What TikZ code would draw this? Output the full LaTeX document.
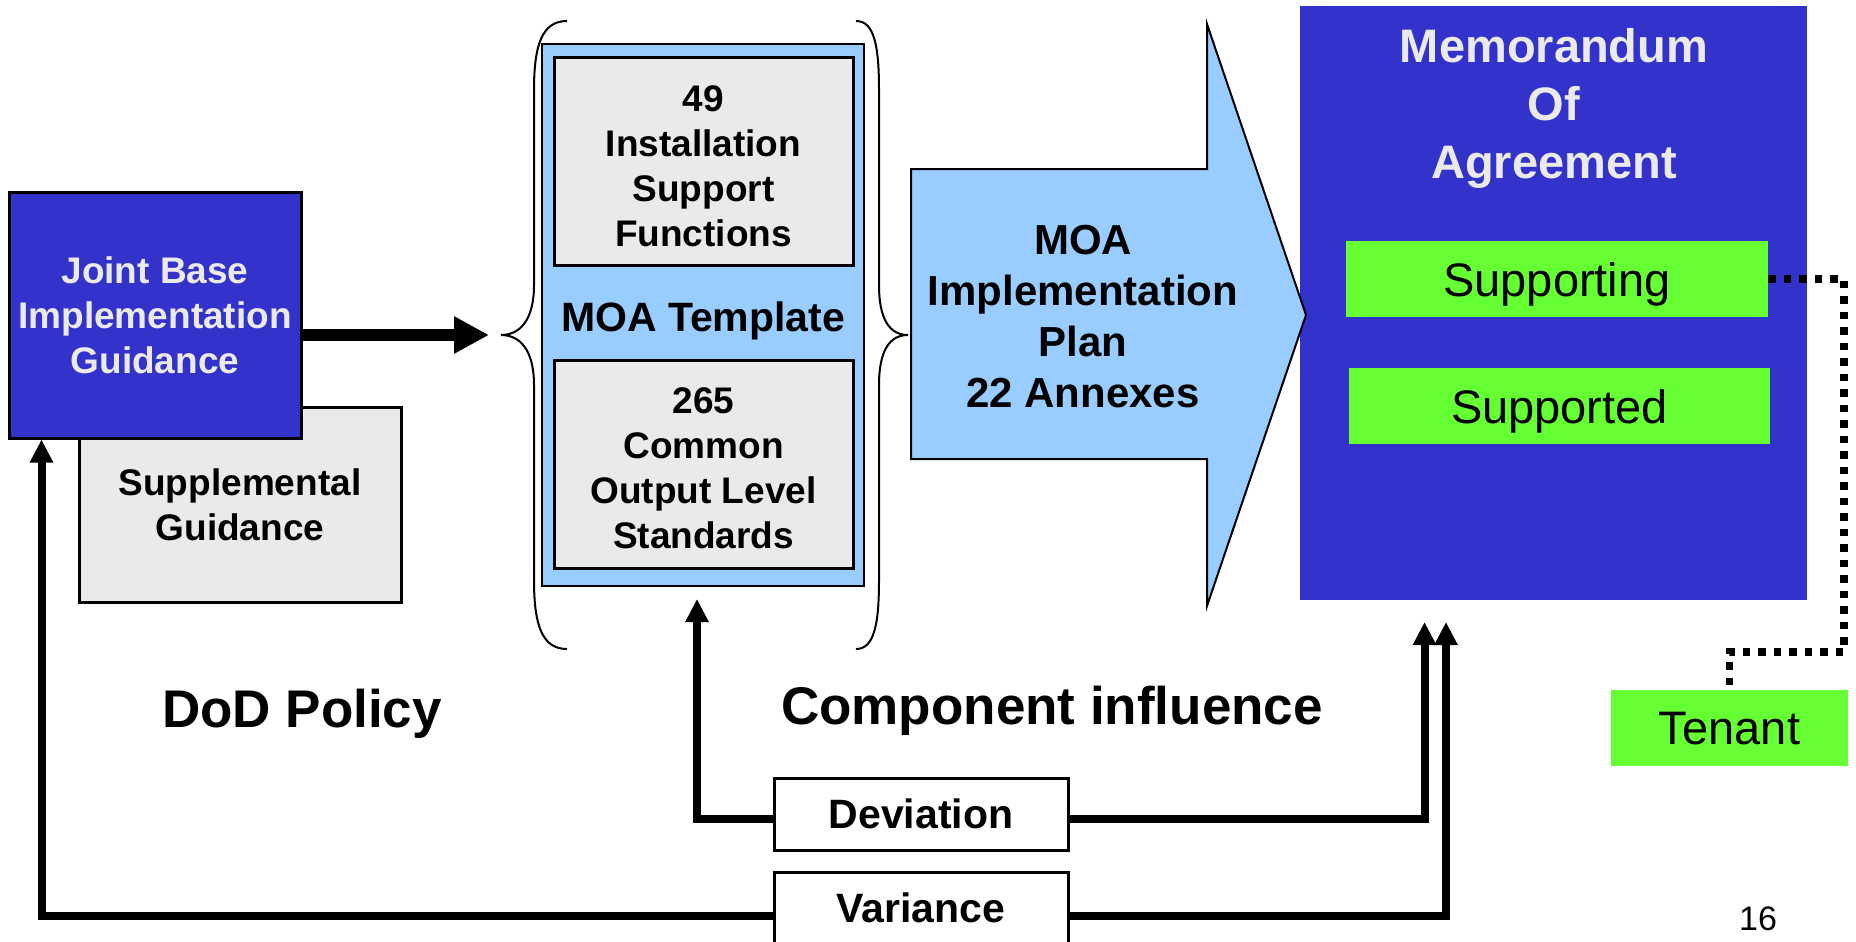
\documentclass[tikz,border=0pt]{standalone}
\usepackage{fontspec}
\setmainfont{Liberation Sans}
\usetikzlibrary{arrows.meta}
\definecolor{moablue}{HTML}{3333CC}
\definecolor{paleblue}{HTML}{99CCFF}
\definecolor{boxgray}{HTML}{EAEAEA}
\definecolor{tgreen}{HTML}{66FF33}
\newcommand{\fs}[2]{\fontsize{#1}{#2}\selectfont}
\tikzset{
  graybox/.style={draw=black,line width=3pt,fill=boxgray,inner sep=0pt,align=center,font=\fs{37}{45}\bfseries},
  boxtext/.style={align=center,font=\fs{37}{45}\bfseries},
  greenbox/.style={fill=tgreen,inner sep=0pt,minimum height=76pt,text depth=0pt,font=\fs{47}{54}},
  tagbox/.style={draw=black,line width=3pt,fill=white,inner sep=0pt,minimum width=294pt,minimum height=72pt,font=\fs{41}{48}\bfseries},
  loopline/.style={line width=8pt,-{Triangle[length=23pt,width=22pt]}},
  dotline/.style={line width=7.5pt,dash pattern=on 7.5pt off 8pt}
}
\begin{document}
\begin{tikzpicture}[x=1pt,y=-1pt]
\useasboundingbox (0,0) rectangle (1856,942);
% guidance boxes
\node[graybox,minimum width=322pt,minimum height=195pt] (supp) at (240,505) {Supplemental\\Guidance};
\node[draw=black,line width=3pt,fill=moablue,text=boxgray,inner sep=0pt,minimum width=292pt,minimum height=246pt,align=center,font=\fs{37}{45}\bfseries] (jbig) at (155,315) {Joint Base\\Implementation\\Guidance};

% template
\node[draw=black,line width=2pt,fill=paleblue,inner sep=0pt,minimum width=322pt,minimum height=542pt] (tmpl) at (703,315) {};
\node[graybox,minimum width=299pt,minimum height=207pt] (isf) at (703.5,161.5) {};
\node[boxtext] (isftxt) at (703.5,166) {49\\Installation\\Support\\Functions};
\node[font=\fs{41}{48}\bfseries] (tmpltxt) at (703,321) {MOA Template};
\node[graybox,minimum width=299pt,minimum height=208pt] (cols) at (703.5,464) {};
\node[boxtext] (colstxt) at (703.5,468.5) {265\\Common\\Output Level\\Standards};

% braces
\draw[line width=2pt] (567,21) .. controls (542,21) and (534,45) .. (534,90) -- (534,285) .. controls (534,320) and (520,335) .. (501,335) .. controls (520,335) and (534,350) .. (534,385) -- (534,580) .. controls (534,625) and (542,649) .. (567,649);
\draw[line width=2pt] (856,21) .. controls (874,21) and (879,45) .. (879,90) -- (879,285) .. controls (879,320) and (890,335) .. (908,335) .. controls (890,335) and (879,350) .. (879,385) -- (879,580) .. controls (879,625) and (874,649) .. (856,649);

% memorandum
\node[fill=moablue,inner sep=0pt,minimum width=507pt,minimum height=594pt] (moa) at (1553.5,303) {};
\node[text=boxgray,align=center,text depth=0pt,font=\fs{47}{58}\bfseries] (moatxt) at (1554,103) {Memorandum\\Of\\Agreement};
\node[greenbox,minimum width=422pt] (supporting) at (1557,279) {Supporting};
\node[greenbox,minimum width=421pt] (supported) at (1559.5,406) {Supported};
\node[greenbox,minimum width=237pt] (tenant) at (1729.5,728) {Tenant};

% plan arrow
\draw[line width=2pt,fill=paleblue] (911,169) -- (1207,169) -- (1207,24) -- (1306,315) -- (1207,606) -- (1207,459) -- (911,459) -- cycle;
\node[align=center,font=\fs{42}{51}\bfseries] (plan) at (1083,317) {MOA\\Implementation\\Plan\\22 Annexes};

% labels
\node[font=\fs{53}{60}\bfseries] (dod) at (302,714) {DoD Policy};
\node[font=\fs{53}{60}\bfseries] (comp) at (1052,711) {Component influence};
\node[tagbox] (dev) at (921,814) {Deviation};
\node[tagbox] (var) at (921,908) {Variance};
\node[font=\fs{34}{40}] (page) at (1758,919) {16};

% connectors
\coordinate (ltip) at (500,335);
\coordinate (devin) at (1424.5,622);
\coordinate (varin) at (1446,622);
\coordinate (bend) at (1844,652);
\draw[line width=12pt,-{Triangle[length=35pt,width=35pt]},shorten >=11pt] ([yshift=-20pt]jbig.east) -- (ltip);
\draw[loopline,shorten >=12pt] ([yshift=-5pt]dev.west) -| ([xshift=-6pt]tmpl.south);
\draw[loopline] ([yshift=-5pt]dev.east) -| (devin);
\draw[loopline] ([yshift=-8pt]var.west) -| ([xshift=34pt]jbig.south west);
\draw[loopline] ([yshift=-8pt]var.east) -| (varin);
\draw[dotline] (supporting.east) -| (bend) -| (tenant.north);
\end{tikzpicture}
\end{document}
